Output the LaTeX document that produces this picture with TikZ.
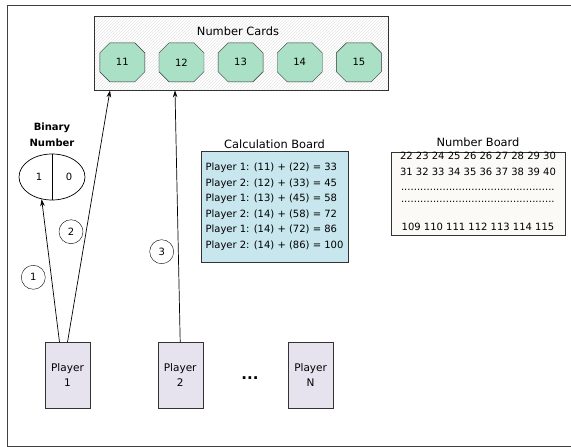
\documentclass[tikz,border=0pt]{standalone}
\usepackage{fontspec}
\setmainfont{DejaVu Sans}
\usetikzlibrary{shapes.geometric, shapes.misc, arrows.meta, positioning, patterns}

\definecolor{cardgreen}{RGB}{170,224,198}
\definecolor{calcblue}{RGB}{200,230,238}
\definecolor{playergray}{RGB}{230,226,238}
\definecolor{boardwhite}{RGB}{251,250,247}

% a row of dots for the skipped lines of the number board
\newcommand{\dotrow}{\makebox[154pt]{\leaders\hbox to 3.2pt{\hss.\hss}\hfill}}

\begin{document}
\begin{tikzpicture}[x=1pt, y=-1pt, >={Stealth[length=7pt, width=4.5pt]}]
    % Styles
    \tikzset{
        cardbox/.style={draw=black!80, line width=0.7pt, pattern=north east lines, pattern color=gray!20, rectangle, minimum width=294pt, minimum height=74pt, inner sep=0pt},
        card/.style={draw=black!80, fill=cardgreen, chamfered rectangle, chamfered rectangle xsep=9pt, chamfered rectangle ysep=7.5pt, minimum width=45pt, minimum height=39pt, inner sep=0pt, font=\fontsize{10}{12}\selectfont},
        title/.style={inner sep=0pt, font=\fontsize{11.4}{13}\selectfont},
        calcblock/.style={draw=black!80, fill=calcblue, rectangle, minimum width=147pt, minimum height=111pt, align=left, inner sep=0pt, font=\fontsize{10}{15.5}\selectfont},
        boardblock/.style={draw=black!80, fill=boardwhite, rectangle, minimum width=174pt, minimum height=83pt, inner sep=0pt},
        playerblock/.style={draw=black!80, fill=playergray, rectangle, minimum width=45pt, minimum height=66pt, align=center, inner sep=0pt, font=\fontsize{10.5}{15}\selectfont},
        steplabel/.style={draw, circle, minimum size=24pt, inner sep=0pt, font=\fontsize{10}{12}\selectfont},
        link/.style={->, line width=0.7pt}
    }

    \useasboundingbox (0,0) rectangle (571,447);
    \draw[line width=1pt, black!75] (571,5) -- (7,5) -- (7,446) -- (571,446);

    % Number cards
    \node [cardbox] (cards) at (241,53) {};
    \node [title] (cardstitle) at ([xshift=-3pt, yshift=-15.7pt]cards.north) {Number Cards};
    \node [card] (c11) at (122.3,62.3) {11};
    \node [card, right=13.75pt of c11] (c12) {12};
    \node [card, right=13.75pt of c12] (c13) {13};
    \node [card, right=13.75pt of c13] (c14) {14};
    \node [card, right=13.75pt of c14] (c15) {15};

    % Binary number
    \node [draw, ellipse, line width=0.7pt, minimum width=66pt, minimum height=46pt, inner sep=0pt] (binary) at (52,177) {};
    \draw [line width=0.7pt] (binary.north) -- (binary.south);
    \node [inner sep=0pt, font=\fontsize{10}{12}\selectfont] (bitone) at ([xshift=-13pt]binary.center) {1};
    \node [inner sep=0pt, font=\fontsize{10}{12}\selectfont] (bitzero) at ([xshift=17pt]binary.center) {0};
    \node [inner sep=0pt, align=center, font=\fontsize{10}{16}\selectfont\bfseries, above=7.3pt of binary] (binarytitle) {Binary\\Number};

    % Calculation board
    \node [calcblock] (calc) at (274.5,206.5) {Player 1: (11) + (22) = 33\\Player 2: (12) + (33) = 45\\Player 1: (13) + (45) = 58\\Player 2: (14) + (58) = 72\\Player 1: (14) + (72) = 86\\Player 2: (14) + (86) = 100};
    \node [title, above=1.6pt of calc] (calctitle) {Calculation Board};

    % Number board
    \node [boardblock] (board) at (478,193.4) {};
    \node [title, above=4.7pt of board] (boardtitle) {Number Board};
    \node [anchor=north, inner sep=0pt, align=center, font=\fontsize{10}{15.7}\selectfont] (boardrows) at ([yshift=-0.6pt]board.north) {22 23 24 25 26 26 27 28 29 30\\31 32 33 34 35 36 37 38 39 40\\[-1pt]\dotrow\\[-3.2pt]\dotrow\\[12.1pt]109 110 111 112 113 114 115};

    % Players
    \node [playerblock] (p1) at (67.5,375.3) {Player\\1};
    \node [playerblock, right=67.3pt of p1] (p2) {Player\\2};
    \node [playerblock, right=85pt of p2] (pn) {Player\\N};
    \node [inner sep=0pt, font=\fontsize{15}{15}\selectfont\bfseries] (more) at (250,378) {...};

    % Moves
    \draw [link] ([xshift=-8pt]p1.north) -- (binary.-115);
    \draw [link] (p1.north) -- ([xshift=-131pt]cards.south);
    \draw [link] (p2.north) -- ([xshift=-66pt]cards.south);

    \node [steplabel] (s1) at (33.3,277.3) {1};
    \node [steplabel] (s2) at (71,231.7) {2};
    \node [steplabel] (s3) at (161.7,251.7) {3};
\end{tikzpicture}
\end{document}
